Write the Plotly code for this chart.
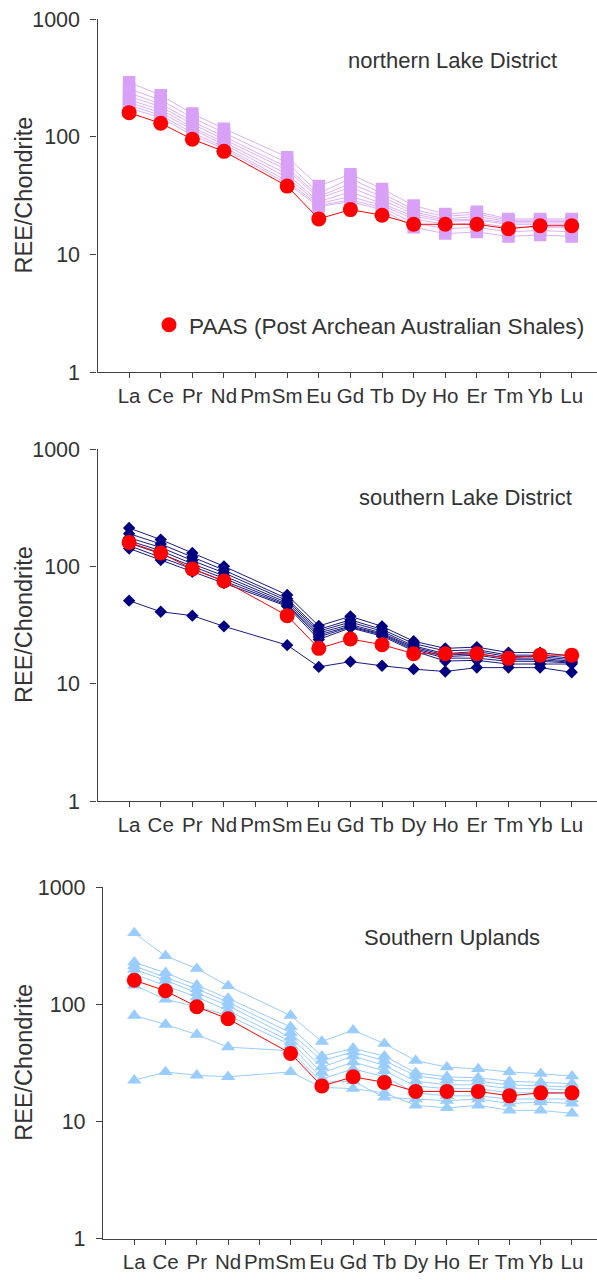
import plotly.graph_objects as go

elements = ["La", "Ce", "Pr", "Nd", "Pm", "Sm", "Eu", "Gd", "Tb", "Dy", "Ho", "Er", "Tm", "Yb", "Lu"]

# PAAS (Post Archean Australian Shales), chondrite-normalised
paas = [160, 130, 95, 75, None, 38, 20, 24, 21.5, 18, 18, 18, 16.5, 17.5, 17.5]

# northern Lake District samples
north = [
    [290, 225, 157, 117, None, 67, 38, 48, 36, 26, 22, 23, 20, 20, 20],
    [255, 205, 145, 108, None, 60, 33, 44, 33, 24, 21, 22, 19.5, 19.5, 19.5],
    [235, 190, 135, 100, None, 55, 31, 40, 31, 23, 20, 21, 19, 19, 19],
    [220, 180, 128, 95, None, 52, 30, 37, 29, 22, 19.5, 20, 18.5, 18.5, 18.5],
    [205, 170, 120, 90, None, 48, 28, 34, 27, 21, 19, 19.5, 18, 18, 18],
    [195, 160, 115, 86, None, 45, 27, 31, 26, 20, 18, 18.5, 17, 17, 17],
    [185, 152, 108, 82, None, 42, 26, 29, 25, 18.5, 16.5, 17, 15.5, 16, 15.5],
    [175, 145, 103, 79, None, 40, 25.5, 28, 24, 17, 15, 15.5, 14.2, 14.6, 14.2],
]

# southern Lake District samples
south = [
    [212, 169, 130, 100, None, 57, 31, 37.5, 30.8, 23, 20, 20.5, 18.4, 18.4, 17.2],
    [190, 155, 120, 93, None, 53, 29, 35, 29, 22, 19, 19.5, 17.5, 17.5, 16.5],
    [175, 145, 112, 88, None, 51, 28, 33.5, 28, 21, 18, 18.8, 17, 17, 16],
    [165, 136, 105, 83, None, 49, 27, 32, 27, 20.5, 17.5, 18, 16.5, 16.5, 15.5],
    [158, 128, 100, 79, None, 47.5, 26, 31, 26.5, 20, 17, 17.5, 16, 16, 15.2],
    [150, 120, 95, 75, None, 46.5, 25, 30.5, 26, 19.5, 16.5, 16.5, 15.5, 15.5, 15],
    [142, 113, 90, 72, None, 45.6, 23.8, 29.9, 25.4, 19, 15.6, 15.8, 14.7, 14.7, 14.7],
    [51, 41, 38, 30.8, None, 21.3, 13.9, 15.4, 14.2, 13.3, 12.7, 13.7, 13.7, 13.7, 12.5],
]

# Southern Uplands samples
uplands = [
    [405, 258, 201, 143, None, 80, 48, 60, 46, 33, 29, 28, 26.4, 25.5, 24.3],
    [228, 185, 145, 112, None, 64, 36, 42, 36, 26, 24, 23.5, 22, 21.5, 21],
    [212, 170, 135, 104, None, 57, 33, 39, 33, 24.5, 22.5, 22, 20.5, 20, 19.6],
    [198, 160, 125, 97, None, 52, 29, 36, 30, 22, 20.5, 20.5, 19, 19, 18.5],
    [180, 145, 115, 88, None, 48, 26, 32, 27, 20, 19, 19, 17.5, 17.5, 17],
    [145, 110, 95, 80, None, 45, 23, 28, 24, 17.5, 16.5, 16.5, 15.5, 15.5, 15.5],
    [80, 67, 55, 43, None, 40, 21.5, 22, 16, 15.5, 15, 15.5, 14.2, 14.6, 14.2],
    [22.4, 26.4, 24.7, 24, None, 26.4, 19.5, 19, 17.5, 13.7, 13, 13.7, 12.4, 12.4, 11.7],
]

panel_titles = ["northern Lake District", "southern Lake District", "Southern Uplands"]
y_title = "REE/Chondrite"
y_ticks = [1, 10, 100, 1000]
legend_label = "PAAS (Post Archean Australian Shales)"

W, H = 597, 1280
FONT = "Arial, Liberation Sans, sans-serif"
AXC = "#404040"
TXC = "#333333"

def px_y(p):
    return (H - p) / H

panels = [
    dict(data=north, color="#D9A0F8", line="#DDB0F8", symbol="square", size=12.5,
         xl=97.5, top=19, bot=372),
    dict(data=south, color="#000080", line="#1A1A80", symbol="diamond", size=9.5,
         xl=97.5, top=449, bot=801),
    dict(data=uplands, color="#99CCFF", line="#99CCFF", symbol="triangle-up", size=12.5,
         xl=103, top=887, bot=1238.5),
]

fig = go.Figure()
for i, p in enumerate(panels):
    k = "" if i == 0 else str(i + 1)
    for s in p["data"]:
        fig.add_trace(go.Scatter(
            x=elements, y=s, mode="lines+markers", connectgaps=True,
            line=dict(color=p["line"], width=1),
            marker=dict(symbol=p["symbol"], size=p["size"], color=p["color"],
                        line=dict(width=0)),
            xaxis="x" + k, yaxis="y" + k, showlegend=False, hoverinfo="skip"))
    fig.add_trace(go.Scatter(
        x=elements, y=paas, mode="lines+markers", connectgaps=True,
        name=legend_label,
        line=dict(color="#FF0000", width=1),
        marker=dict(symbol="circle", size=15, color="#FF0000", line=dict(width=0)),
        xaxis="x" + k, yaxis="y" + k, showlegend=False))

    xa = dict(domain=[p["xl"] / W, 1], type="category", range=[-1, 14.8],
              anchor="y" + k, showline=True, linecolor=AXC, linewidth=1.3,
              ticks="outside", ticklen=5, tickcolor=AXC, tickwidth=1,
              tickangle=0,
              showgrid=False, zeroline=False,
              tickfont=dict(family=FONT, size=20.5, color=TXC))
    ya = dict(domain=[px_y(p["bot"]), px_y(p["top"])], type="log", range=[0, 3],
              anchor="x" + k, showline=True, linecolor=AXC, linewidth=1.3,
              ticks="outside", ticklen=6, tickcolor=AXC, tickwidth=1,
              tickvals=y_ticks, ticktext=[str(v) for v in y_ticks],
              ticklabelstandoff=6,
              showgrid=False, zeroline=False,
              tickfont=dict(family=FONT, size=21.5, color=TXC))
    fig.update_layout(**{"xaxis" + k: xa, "yaxis" + k: ya})

    fig.add_annotation(text=y_title, textangle=-90, x=24 / W,
                       y=px_y((p["top"] + p["bot"]) / 2), xref="paper", yref="paper",
                       xanchor="center", yanchor="middle",
                       showarrow=False, font=dict(family=FONT, size=23.5, color=TXC))

# legend entry (marker only, like the reference)
fig.add_trace(go.Scatter(x=[None], y=[None], mode="markers", name=legend_label,
                         marker=dict(symbol="circle", size=15, color="#FF0000"),
                         showlegend=True))

title_pos = [(452, 60), (465, 497), (452, 937)]
for t, (cx, cy) in zip(panel_titles, title_pos):
    fig.add_annotation(text=t, x=cx / W, y=px_y(cy), xref="paper", yref="paper",
                       xanchor="center", yanchor="middle",
                       showarrow=False, font=dict(family=FONT, size=22, color=TXC))

fig.update_layout(
    width=W, height=H,
    margin=dict(l=0, r=0, t=0, b=0, autoexpand=False),
    paper_bgcolor="white", plot_bgcolor="white",
    legend=dict(x=149 / W, y=px_y(325), xanchor="left", yanchor="middle",
                bgcolor="rgba(0,0,0,0)", borderwidth=0,
                font=dict(family=FONT, size=22.6, color=TXC)),
)

fig.write_html("out.html")
